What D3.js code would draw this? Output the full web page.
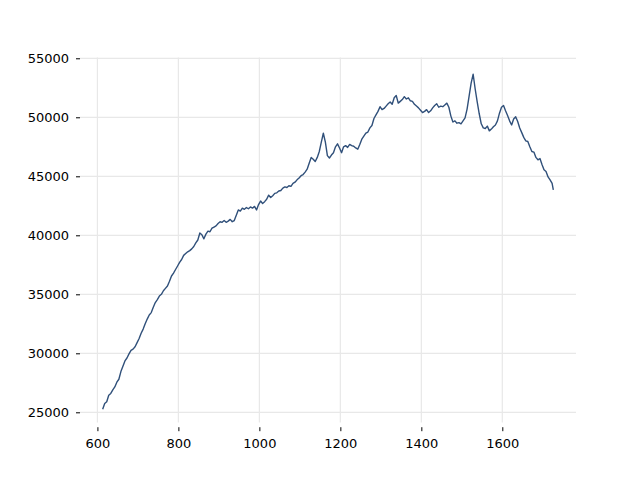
<!DOCTYPE html>
<html>
<head>
<meta charset="utf-8">
<script src="https://cdn.jsdelivr.net/npm/d3@7"></script>
<style>
  html, body { margin: 0; padding: 0; background: #ffffff; }
  svg { display: block; }
</style>
</head>
<body>
<svg id="chart" width="640" height="480"></svg>
<script>
// ---- data ----
const wavelengths = [
  613, 618, 623, 628, 633, 638, 643, 648, 653, 658,
  663, 668, 673, 678, 683, 688, 693, 698, 703, 708,
  713, 718, 723, 728, 733, 738, 743, 748, 753, 758,
  763, 768, 773, 778, 783, 788, 793, 798, 803, 808,
  813, 818, 823, 828, 833, 838, 843, 848, 853, 858,
  863, 868, 873, 878, 883, 888, 893, 898, 903, 908,
  913, 918, 923, 928, 933, 938, 943, 948, 953, 958,
  963, 968, 973, 978, 983, 988, 993, 998, 1003, 1008,
  1013, 1018, 1023, 1028, 1033, 1038, 1043, 1048, 1053, 1058,
  1063, 1068, 1073, 1078, 1083, 1088, 1093, 1098, 1103, 1108,
  1113, 1118, 1123, 1128, 1133, 1138, 1143, 1148, 1153, 1158,
  1163, 1168, 1173, 1178, 1183, 1188, 1193, 1198, 1203, 1208,
  1213, 1218, 1223, 1228, 1233, 1238, 1243, 1248, 1253, 1258,
  1263, 1268, 1273, 1278, 1283, 1288, 1293, 1298, 1303, 1308,
  1313, 1318, 1323, 1328, 1333, 1338, 1343, 1348, 1353, 1358,
  1363, 1368, 1373, 1378, 1383, 1388, 1393, 1398, 1403, 1408,
  1413, 1418, 1423, 1428, 1433, 1438, 1443, 1448, 1453, 1458,
  1463, 1468, 1473, 1478, 1483, 1488, 1493, 1498, 1503, 1508,
  1513, 1518, 1523, 1528, 1533, 1538, 1543, 1548, 1553, 1558,
  1563, 1568, 1573, 1578, 1583, 1588, 1593, 1598, 1603, 1608,
  1613, 1618, 1623, 1628, 1633, 1638, 1643, 1648, 1653, 1658,
  1663, 1668, 1673, 1678, 1683, 1688, 1693, 1698, 1703, 1708,
  1713, 1718, 1723, 1726
];
const values = [
  25250, 25750, 25900, 26450, 26600, 26900, 27150, 27550, 27800, 28450,
  28900, 29350, 29600, 29950, 30250, 30350, 30550, 30900, 31250, 31700,
  32050, 32500, 32900, 33250, 33450, 33900, 34300, 34550, 34850, 35000,
  35300, 35500, 35700, 36100, 36550, 36800, 37100, 37400, 37700, 37950,
  38300, 38450, 38600, 38700, 38850, 39050, 39350, 39600, 40200, 40050,
  39700, 40100, 40350, 40300, 40600, 40700, 40800, 41000, 41150, 41100,
  41250, 41100, 41200, 41350, 41150, 41250, 41700, 42150, 42050, 42300,
  42200, 42350, 42250, 42400, 42300, 42450, 42150, 42600, 42900, 42700,
  42850, 43050, 43400, 43200, 43350, 43550, 43600, 43750, 43800, 44000,
  44100, 44050, 44200, 44150, 44400, 44500, 44700, 44850, 45050, 45150,
  45350, 45600, 46100, 46600, 46450, 46250, 46600, 47100, 47900, 48650,
  47900, 46750, 46550, 46800, 47000, 47500, 47750, 47400, 47000, 47500,
  47600, 47450, 47700, 47600, 47550, 47400, 47300, 47700, 48150, 48400,
  48650, 48750, 49100, 49300, 49900, 50200, 50500, 50900, 50650, 50750,
  50950, 51150, 51300, 51100, 51650, 51850, 51200, 51350, 51500, 51750,
  51550, 51650, 51400, 51350, 51100, 50950, 50800, 50600, 50400, 50500,
  50650, 50400, 50550, 50800, 51000, 51150, 50850, 50950, 50900, 51050,
  51200, 50850, 50100, 49600, 49700, 49500, 49550, 49450, 49700, 49950,
  50700, 51800, 52900, 53650, 52400, 51300, 50300, 49450, 49100, 49050,
  49250, 48850, 49000, 49200, 49350, 49700, 50350, 50850, 51000, 50550,
  50150, 49700, 49350, 49850, 50050, 49650, 49100, 48700, 48300, 48000,
  47950, 47500, 47100, 47050, 46600, 46400, 46500, 46000, 45550, 45400,
  44950, 44700, 44400, 43850
];
const xTicks = [600, 800, 1000, 1200, 1400, 1600];
const yTicks = [25000, 30000, 35000, 40000, 45000, 50000, 55000];
const xLimits = [557, 1782];
const yLimits = [24144, 55059];

// ---- layout ----
const plotLeft = 80, plotRight = 576, plotTop = 57.6, plotBottom = 422.4;

const svg = d3.select("#chart");
const x = d3.scaleLinear().domain(xLimits).range([plotLeft, plotRight]);
const y = d3.scaleLinear().domain(yLimits).range([plotBottom, plotTop]);

// gridlines
const grid = svg.append("g");
grid.selectAll("line.v").data(xTicks).enter().append("line")
  .attr("x1", d => x(d)).attr("x2", d => x(d))
  .attr("y1", plotTop).attr("y2", plotBottom)
  .attr("stroke", "#e8e8e8").attr("stroke-width", 1.2);
grid.selectAll("line.h").data(yTicks).enter().append("line")
  .attr("x1", plotLeft).attr("x2", plotRight)
  .attr("y1", d => y(d)).attr("y2", d => y(d))
  .attr("stroke", "#e8e8e8").attr("stroke-width", 1.2);

// axes
const fontFamily = "'DejaVu Sans', sans-serif";
const xAxis = svg.append("g")
  .attr("transform", `translate(0,${plotBottom + 4.8})`)
  .call(d3.axisBottom(x).tickValues(xTicks).tickFormat(d3.format("d")).tickSize(4).tickPadding(7.5));
const yAxis = svg.append("g")
  .attr("transform", `translate(${plotLeft},0)`)
  .call(d3.axisLeft(y).tickValues(yTicks).tickFormat(d3.format("d")).tickSize(4).tickPadding(7));

[xAxis, yAxis].forEach(g => {
  g.select(".domain").remove();
  g.selectAll(".tick line").attr("stroke", "#000").attr("stroke-width", 1);
  g.selectAll(".tick text").attr("fill", "#000")
    .style("font-family", fontFamily).style("font-size", "13px");
});

// line
const pts = wavelengths.map((w, i) => [w, values[i]]);
const line = d3.line().x(d => x(d[0])).y(d => y(d[1]));
svg.append("path")
  .datum(pts)
  .attr("d", line)
  .attr("fill", "none")
  .attr("stroke", "#30507a")
  .attr("stroke-width", 1.4)
  .attr("stroke-linejoin", "round");
</script>
</body>
</html>
